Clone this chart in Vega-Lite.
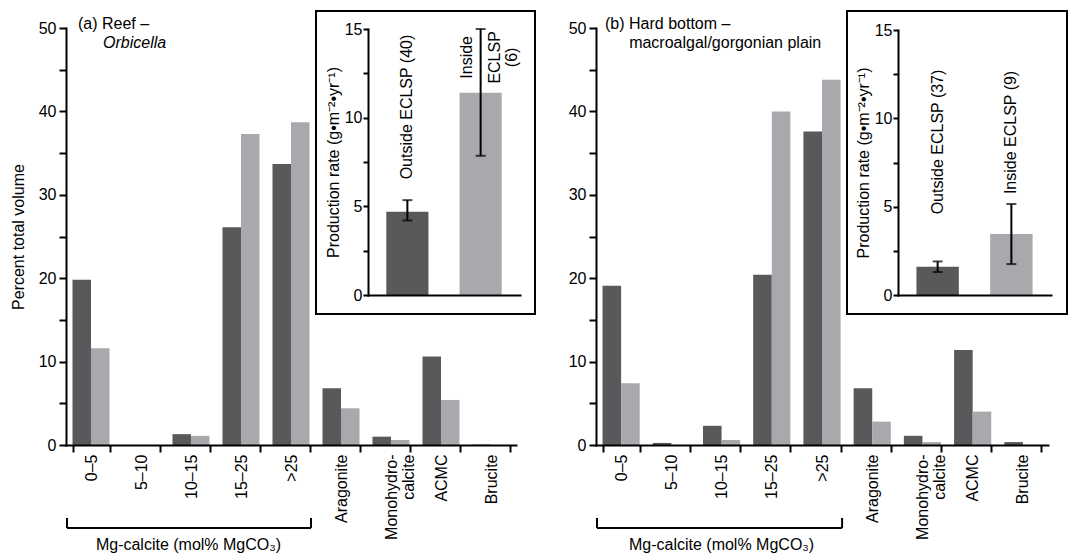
{
  "$schema": "https://vega.github.io/schema/vega-lite/v6.json",
  "width": 1070,
  "height": 553,
  "autosize": {"type": "none"},
  "padding": 0,
  "background": "white",
  "config": {
    "view": {"stroke": null},
    "font": "Liberation Sans",
    "axis": {
      "domainColor": "black", "tickColor": "black", "labelColor": "black", "titleColor": "black",
      "domainWidth": 2, "tickWidth": 2, "labelFontSize": 16, "titleFontSize": 16, "titleFontWeight": "normal",
      "labelFont": "Liberation Sans", "titleFont": "Liberation Sans", "grid": false,
      "labelOverlap": false, "labelFlush": false, "domainCap": "square"
    },
    "text": {"font": "Liberation Sans", "fontSize": 16, "color": "black"}
  },
  "datasets": {
    "mainA": [
      {"cat": "0–5", "series": "Outside", "pct": 19.8}, {"cat": "0–5", "series": "Inside", "pct": 11.6},
      {"cat": "5–10", "series": "Outside", "pct": 0}, {"cat": "5–10", "series": "Inside", "pct": 0},
      {"cat": "10–15", "series": "Outside", "pct": 1.3}, {"cat": "10–15", "series": "Inside", "pct": 1.1},
      {"cat": "15–25", "series": "Outside", "pct": 26.1}, {"cat": "15–25", "series": "Inside", "pct": 37.3},
      {"cat": ">25", "series": "Outside", "pct": 33.7}, {"cat": ">25", "series": "Inside", "pct": 38.7},
      {"cat": "Aragonite", "series": "Outside", "pct": 6.8}, {"cat": "Aragonite", "series": "Inside", "pct": 4.4},
      {"cat": "Monohydro-calcite", "series": "Outside", "pct": 1.0}, {"cat": "Monohydro-calcite", "series": "Inside", "pct": 0.6},
      {"cat": "ACMC", "series": "Outside", "pct": 10.6}, {"cat": "ACMC", "series": "Inside", "pct": 5.4},
      {"cat": "Brucite", "series": "Outside", "pct": 0.05}, {"cat": "Brucite", "series": "Inside", "pct": 0}
    ],
    "mainB": [
      {"cat": "0–5", "series": "Outside", "pct": 19.1}, {"cat": "0–5", "series": "Inside", "pct": 7.4},
      {"cat": "5–10", "series": "Outside", "pct": 0.25}, {"cat": "5–10", "series": "Inside", "pct": 0},
      {"cat": "10–15", "series": "Outside", "pct": 2.3}, {"cat": "10–15", "series": "Inside", "pct": 0.6},
      {"cat": "15–25", "series": "Outside", "pct": 20.4}, {"cat": "15–25", "series": "Inside", "pct": 40.0},
      {"cat": ">25", "series": "Outside", "pct": 37.6}, {"cat": ">25", "series": "Inside", "pct": 43.8},
      {"cat": "Aragonite", "series": "Outside", "pct": 6.8}, {"cat": "Aragonite", "series": "Inside", "pct": 2.8},
      {"cat": "Monohydro-calcite", "series": "Outside", "pct": 1.1}, {"cat": "Monohydro-calcite", "series": "Inside", "pct": 0.35},
      {"cat": "ACMC", "series": "Outside", "pct": 11.4}, {"cat": "ACMC", "series": "Inside", "pct": 4.0},
      {"cat": "Brucite", "series": "Outside", "pct": 0.35}, {"cat": "Brucite", "series": "Inside", "pct": 0}
    ],
    "insetA": [
      {"group": "Outside", "rate": 4.7, "lo": 4.2, "hi": 5.35},
      {"group": "Inside", "rate": 11.4, "lo": 7.85, "hi": 15.0}
    ],
    "insetB": [
      {"group": "Outside", "rate": 1.6, "lo": 1.3, "hi": 1.9},
      {"group": "Inside", "rate": 3.45, "lo": 1.75, "hi": 5.15}
    ]
  },
  "layer": [
    {
      "data": {"name": "mainA"},
      "mark": {"type": "bar"},
      "encoding": {
        "x": {"field": "cat", "type": "nominal",
          "sort": ["0–5", "5–10", "10–15", "15–25", ">25", "Aragonite", "Monohydro-calcite", "ACMC", "Brucite"],
          "scale": {"range": [66, 516], "paddingInner": 0.26, "paddingOuter": 0.13},
          "axis": {"orient": "bottom", "offset": -108, "title": null, "labelAngle": 270, "tickBand": "extent",
            "tickSize": 7, "labelPadding": 2, "labelLineHeight": 17, "zindex": 1,
            "labelExpr": "datum.value === 'Monohydro-calcite' ? ['Monohydro-', 'calcite'] : datum.label"}},
        "xOffset": {"field": "series", "type": "nominal", "sort": ["Outside", "Inside"], "scale": {"paddingInner": 0, "paddingOuter": 0}},
        "y": {"field": "pct", "type": "quantitative",
          "scale": {"domain": [0, 50], "range": [445, 28], "nice": false},
          "axis": {"orient": "left", "offset": -66, "values": [0, 5, 10, 15, 20, 25, 30, 35, 40, 45, 50], "zindex": 1,
            "labelExpr": "datum.value % 10 === 0 ? datum.label : ''", "tickSize": 7, "labelPadding": 3,
            "title": "Percent total volume", "titlePadding": 12}},
        "color": {"field": "series", "type": "nominal", "scale": {"domain": ["Outside", "Inside"], "range": ["#58595b", "#a7a9ac"]}, "legend": null}
      }
    },
    {
      "data": {"values": [{}]},
      "mark": {"type": "rect", "filled": false, "stroke": "black", "strokeWidth": 2},
      "encoding": {
        "x": {"datum": 0, "type": "quantitative", "scale": {"domain": [0, 1], "range": [316, 535], "nice": false}, "axis": null},
        "x2": {"datum": 1},
        "y": {"datum": 0, "type": "quantitative", "scale": {"domain": [0, 1], "range": [314, 11], "nice": false}, "axis": null},
        "y2": {"datum": 1}
      }
    },
    {
      "data": {"name": "insetA"},
      "encoding": {
        "x": {"field": "group", "type": "nominal", "sort": ["Outside", "Inside"],
          "scale": {"range": [368, 520], "paddingInner": 0.425, "paddingOuter": 0.25},
          "axis": {"orient": "bottom", "offset": -258, "title": null, "labels": false, "ticks": false, "zindex": 1}}
      },
      "layer": [
        {
          "mark": {"type": "bar"},
          "encoding": {
            "y": {"field": "rate", "type": "quantitative",
              "scale": {"domain": [0, 15], "range": [295, 29], "nice": false},
              "axis": {"orient": "left", "offset": -368, "values": [0, 2.5, 5, 7.5, 10, 12.5, 15], "zindex": 1,
                "labelExpr": "datum.value % 5 === 0 ? datum.label : ''", "tickSize": 5, "labelPadding": 1,
                "title": "Production rate (g•m⁻²•yr⁻¹)", "titlePadding": 3}},
            "color": {"field": "group", "type": "nominal", "scale": {"domain": ["Outside", "Inside"], "range": ["#58595b", "#a7a9ac"]}, "legend": null}
          }
        },
        {
          "mark": {"type": "rule", "strokeWidth": 2, "color": "black"},
          "encoding": {"y": {"field": "lo", "type": "quantitative"}, "y2": {"field": "hi"}}
        },
        {
          "mark": {"type": "tick", "size": 10, "thickness": 2, "color": "black"},
          "encoding": {"y": {"field": "lo", "type": "quantitative"}}
        },
        {
          "mark": {"type": "tick", "size": 10, "thickness": 2, "color": "black"},
          "encoding": {"y": {"field": "hi", "type": "quantitative"}}
        },
        {
          "transform": [{"filter": "datum.group === 'Outside'"}],
          "mark": {"type": "text", "angle": 270, "align": "center", "baseline": "middle"},
          "encoding": {"y": {"datum": 10.6, "type": "quantitative"}, "text": {"value": "Outside ECLSP (40)"}}
        },
        {
          "transform": [{"filter": "datum.group === 'Inside'"}],
          "mark": {"type": "text", "angle": 270, "align": "center", "baseline": "middle", "dy": -14},
          "encoding": {"y": {"datum": 13.4, "type": "quantitative"}, "text": {"value": "Inside"}}
        },
        {
          "transform": [{"filter": "datum.group === 'Inside'"}],
          "mark": {"type": "text", "angle": 270, "align": "center", "baseline": "middle", "dy": 14, "lineHeight": 17},
          "encoding": {"y": {"datum": 13.4, "type": "quantitative"}, "text": {"value": ["ECLSP", "(6)"]}}
        }
      ]
    },
    {
      "data": {"values": [{}]},
      "layer": [
        {
          "mark": {"type": "rule", "strokeWidth": 2, "color": "black"},
          "encoding": {
            "x": {"datum": 0.02, "type": "quantitative", "scale": {"domain": [0, 9], "range": [66, 516], "nice": false, "zero": false}, "axis": null},
            "x2": {"datum": 4.9},
            "y": {"datum": -9.95, "type": "quantitative", "scale": {"domain": [0, 50], "range": [445, 28], "nice": false}, "axis": null}
          }
        },
        {
          "mark": {"type": "rule", "strokeWidth": 2, "color": "black"},
          "encoding": {
            "x": {"datum": 0.02, "type": "quantitative", "axis": null},
            "y": {"datum": -9.95, "type": "quantitative", "axis": null},
            "y2": {"datum": -8.75}
          }
        },
        {
          "mark": {"type": "rule", "strokeWidth": 2, "color": "black"},
          "encoding": {
            "x": {"datum": 4.9, "type": "quantitative", "axis": null},
            "y": {"datum": -9.95, "type": "quantitative", "axis": null},
            "y2": {"datum": -8.75}
          }
        },
        {
          "mark": {"type": "text", "align": "center", "baseline": "middle"},
          "encoding": {
            "x": {"datum": 2.45, "type": "quantitative", "axis": null},
            "y": {"datum": -12, "type": "quantitative", "axis": null},
            "text": {"value": "Mg-calcite (mol% MgCO₃)"}
          }
        },
        {
          "mark": {"type": "text", "align": "left", "baseline": "middle"},
          "encoding": {
            "x": {"datum": 0.24, "type": "quantitative", "axis": null},
            "y": {"datum": 50.5, "type": "quantitative", "axis": null},
            "text": {"value": "(a) Reef –"}
          }
        },
        {
          "mark": {"type": "text", "align": "left", "baseline": "middle", "fontStyle": "italic"},
          "encoding": {
            "x": {"datum": 0.74, "type": "quantitative", "axis": null},
            "y": {"datum": 48.2, "type": "quantitative", "axis": null},
            "text": {"value": "Orbicella"}
          }
        }
      ]
    },
    {
      "data": {"name": "mainB"},
      "mark": {"type": "bar"},
      "encoding": {
        "x": {"field": "cat", "type": "nominal",
          "sort": ["0–5", "5–10", "10–15", "15–25", ">25", "Aragonite", "Monohydro-calcite", "ACMC", "Brucite"],
          "scale": {"range": [596, 1048], "paddingInner": 0.26, "paddingOuter": 0.13},
          "axis": {"orient": "bottom", "offset": -108, "title": null, "labelAngle": 270, "tickBand": "extent",
            "tickSize": 7, "labelPadding": 2, "labelLineHeight": 17, "zindex": 1,
            "labelExpr": "datum.value === 'Monohydro-calcite' ? ['Monohydro-', 'calcite'] : datum.label"}},
        "xOffset": {"field": "series", "type": "nominal", "sort": ["Outside", "Inside"], "scale": {"paddingInner": 0, "paddingOuter": 0}},
        "y": {"field": "pct", "type": "quantitative",
          "scale": {"domain": [0, 50], "range": [445, 28], "nice": false},
          "axis": {"orient": "left", "offset": -596, "values": [0, 5, 10, 15, 20, 25, 30, 35, 40, 45, 50], "zindex": 1,
            "labelExpr": "datum.value % 10 === 0 ? datum.label : ''", "tickSize": 7, "labelPadding": 3, "title": null}},
        "color": {"field": "series", "type": "nominal", "scale": {"domain": ["Outside", "Inside"], "range": ["#58595b", "#a7a9ac"]}, "legend": null}
      }
    },
    {
      "data": {"values": [{}]},
      "mark": {"type": "rect", "filled": false, "stroke": "black", "strokeWidth": 2},
      "encoding": {
        "x": {"datum": 0, "type": "quantitative", "scale": {"domain": [0, 1], "range": [847, 1067], "nice": false}, "axis": null},
        "x2": {"datum": 1},
        "y": {"datum": 0, "type": "quantitative", "scale": {"domain": [0, 1], "range": [314, 11], "nice": false}, "axis": null},
        "y2": {"datum": 1}
      }
    },
    {
      "data": {"name": "insetB"},
      "encoding": {
        "x": {"field": "group", "type": "nominal", "sort": ["Outside", "Inside"],
          "scale": {"range": [898, 1051], "paddingInner": 0.425, "paddingOuter": 0.25},
          "axis": {"orient": "bottom", "offset": -258, "title": null, "labels": false, "ticks": false, "zindex": 1}}
      },
      "layer": [
        {
          "mark": {"type": "bar"},
          "encoding": {
            "y": {"field": "rate", "type": "quantitative",
              "scale": {"domain": [0, 15], "range": [295, 30], "nice": false},
              "axis": {"orient": "left", "offset": -898, "values": [0, 2.5, 5, 7.5, 10, 12.5, 15], "zindex": 1,
                "labelExpr": "datum.value % 5 === 0 ? datum.label : ''", "tickSize": 5, "labelPadding": 1,
                "title": "Production rate (g•m⁻²•yr⁻¹)", "titlePadding": 3}},
            "color": {"field": "group", "type": "nominal", "scale": {"domain": ["Outside", "Inside"], "range": ["#58595b", "#a7a9ac"]}, "legend": null}
          }
        },
        {
          "mark": {"type": "rule", "strokeWidth": 2, "color": "black"},
          "encoding": {"y": {"field": "lo", "type": "quantitative"}, "y2": {"field": "hi"}}
        },
        {
          "mark": {"type": "tick", "size": 10, "thickness": 2, "color": "black"},
          "encoding": {"y": {"field": "lo", "type": "quantitative"}}
        },
        {
          "mark": {"type": "tick", "size": 10, "thickness": 2, "color": "black"},
          "encoding": {"y": {"field": "hi", "type": "quantitative"}}
        },
        {
          "transform": [{"filter": "datum.group === 'Outside'"}],
          "mark": {"type": "text", "angle": 270, "align": "center", "baseline": "middle"},
          "encoding": {"y": {"datum": 8.66, "type": "quantitative"}, "text": {"value": "Outside ECLSP (37)"}}
        },
        {
          "transform": [{"filter": "datum.group === 'Inside'"}],
          "mark": {"type": "text", "angle": 270, "align": "center", "baseline": "middle"},
          "encoding": {"y": {"datum": 9.2, "type": "quantitative"}, "text": {"value": "Inside ECLSP (9)"}}
        }
      ]
    },
    {
      "data": {"values": [{}]},
      "layer": [
        {
          "mark": {"type": "rule", "strokeWidth": 2, "color": "black"},
          "encoding": {
            "x": {"datum": 0.02, "type": "quantitative", "scale": {"domain": [0, 9], "range": [596, 1048], "nice": false, "zero": false}, "axis": null},
            "x2": {"datum": 4.9},
            "y": {"datum": -9.95, "type": "quantitative", "scale": {"domain": [0, 50], "range": [445, 28], "nice": false}, "axis": null}
          }
        },
        {
          "mark": {"type": "rule", "strokeWidth": 2, "color": "black"},
          "encoding": {
            "x": {"datum": 0.02, "type": "quantitative", "axis": null},
            "y": {"datum": -9.95, "type": "quantitative", "axis": null},
            "y2": {"datum": -8.75}
          }
        },
        {
          "mark": {"type": "rule", "strokeWidth": 2, "color": "black"},
          "encoding": {
            "x": {"datum": 4.9, "type": "quantitative", "axis": null},
            "y": {"datum": -9.95, "type": "quantitative", "axis": null},
            "y2": {"datum": -8.75}
          }
        },
        {
          "mark": {"type": "text", "align": "center", "baseline": "middle"},
          "encoding": {
            "x": {"datum": 2.5, "type": "quantitative", "axis": null},
            "y": {"datum": -12, "type": "quantitative", "axis": null},
            "text": {"value": "Mg-calcite (mol% MgCO₃)"}
          }
        },
        {
          "mark": {"type": "text", "align": "left", "baseline": "middle"},
          "encoding": {
            "x": {"datum": 0.18, "type": "quantitative", "axis": null},
            "y": {"datum": 50.5, "type": "quantitative", "axis": null},
            "text": {"value": "(b) Hard bottom –"}
          }
        },
        {
          "mark": {"type": "text", "align": "left", "baseline": "middle"},
          "encoding": {
            "x": {"datum": 0.66, "type": "quantitative", "axis": null},
            "y": {"datum": 48.2, "type": "quantitative", "axis": null},
            "text": {"value": "macroalgal/gorgonian plain"}
          }
        }
      ]
    }
  ],
  "resolve": {
    "scale": {"x": "independent", "y": "independent", "xOffset": "independent"},
    "axis": {"x": "independent", "y": "independent"}
  }
}
